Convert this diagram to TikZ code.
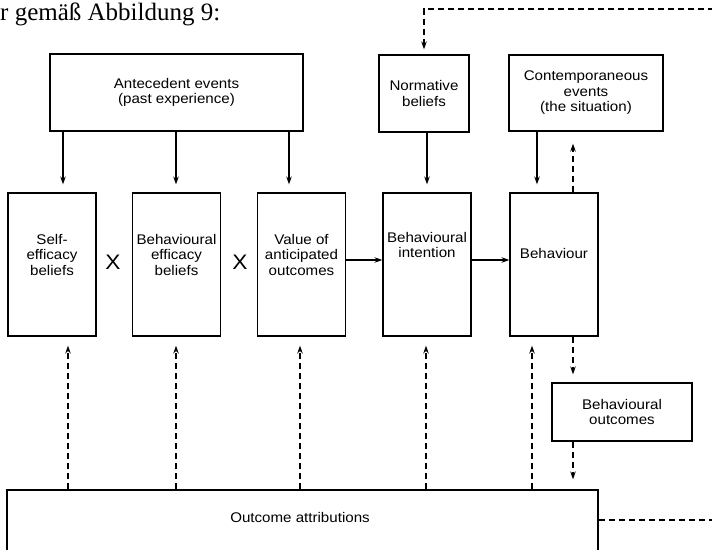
\documentclass[tikz,border=0pt]{standalone}
\usepackage{fontspec}
\setmainfont{Liberation Serif}
\newfontfamily\figfont[FakeStretch=1.08]{Liberation Sans}
\usetikzlibrary{arrows.meta}
\tikzset{
  box/.style={draw, line width=1.2pt, inner sep=0pt, align=center,
    font=\figfont\fontsize{14}{15.5}\selectfont},
  tall/.style={box, minimum width=88pt, minimum height=143pt},
  lbl/.style={inner sep=0pt, align=center, font=\figfont\fontsize{14}{15.5}\selectfont},
  arr/.style={line width=1.2pt, -{Stealth[length=8pt,width=5.5pt]}},
  darr/.style={arr, line width=1.4pt, dash pattern=on 6pt off 4pt},
}
\begin{document}
\begin{tikzpicture}[x=1pt,y=-1pt]
\useasboundingbox (0,0) rectangle (712,549);
\clip (0,0) rectangle (712,549);
\node[anchor=base west, inner sep=0pt, font=\fontsize{25}{30}\selectfont] (head) at (0,20) {r gemäß Abbildung 9:};

% upper row
\node[box, minimum width=253pt, minimum height=77pt] (ante) at (176.5,92.5) {Antecedent events\\(past experience)};
\node[box, minimum width=90pt, minimum height=77pt] (norm) at (424,93.5) {Normative\\beliefs};
\node[box, minimum width=154pt, minimum height=76pt] (cont) at (586,93) {Contemporaneous\\events\\(the situation)};

% middle row
\node[tall] (self) at (52,264.5) {};
\node[tall] (beff) at (176.5,264.5) {};
\node[tall] (value) at (301.5,264.5) {};
\node[tall] (intent) at (427,264.5) {};
\node[tall] (behav) at (554,264.5) {};
\node[lbl] (self-t) at ([yshift=10pt]self.center) {Self-\\efficacy\\beliefs};
\node[lbl] (beff-t) at ([yshift=10pt]beff.center) {Behavioural\\efficacy\\beliefs};
\node[lbl] (value-t) at ([yshift=10pt]value.center) {Value of\\anticipated\\outcomes};
\node[lbl] (intent-t) at ([yshift=19.5pt]intent.center) {Behavioural\\intention};
\node[lbl] (behav-t) at ([yshift=11.5pt]behav.center) {Behaviour};
\node[lbl, font=\figfont\fontsize{21}{21}\selectfont] (x1) at (113,262) {X};
\node[lbl, font=\figfont\fontsize{21}{21}\selectfont] (x2) at (240,262) {X};

% lower part
\node[box, minimum width=140pt, minimum height=58pt] (bout) at (622,412) {Behavioural\\outcomes};
\node[box, minimum width=591pt, minimum height=66pt] (attr) at (302.5,523) {};
\node[lbl] (attr-t) at (300,517) {Outcome attributions};

% solid arrows
\draw[arr] ([xshift=11pt]self.north |- ante.south) -- ([xshift=11pt,yshift=8pt]self.north);
\draw[arr] ([xshift=-0.5pt]beff.north |- ante.south) -- ([xshift=-0.5pt,yshift=8pt]beff.north);
\draw[arr] ([xshift=-12.5pt]value.north |- ante.south) -- ([xshift=-12.5pt,yshift=8pt]value.north);
\draw[arr] (intent.north |- norm.south) -- ([yshift=8pt]intent.north);
\draw[arr] ([xshift=-17pt]behav.north |- cont.south) -- ([xshift=-17pt,yshift=8pt]behav.north);
\draw[arr] ([yshift=4.5pt]value.east) -- ([yshift=4.5pt]intent.west);
\draw[arr] ([yshift=4.5pt]intent.east) -- ([yshift=4.5pt]behav.west);

% dashed arrows
\draw[darr] ([xshift=19pt]behav.north) -- ([xshift=19pt,yshift=-12pt]behav.north |- cont.south);
\draw[darr] ([xshift=19pt]behav.south) -- ([xshift=19pt,yshift=8pt]behav.south |- bout.north);
\draw[darr] ([xshift=19pt]behav.south |- bout.south) -- ([xshift=19pt,yshift=10pt]behav.south |- attr.north);
\foreach \n/\dx in {self/16, beff/-0.5, value/-1.5, intent/-1, behav/-22}
  \draw[darr] ([xshift=\dx pt]\n.south |- attr.north) -- ([xshift=\dx pt,yshift=-9pt]\n.south);
\coordinate (rim) at (716,9);
\draw[darr] ([yshift=3pt]attr.east) -| (rim) -| ([yshift=5pt]norm.north);
\end{tikzpicture}
\end{document}
